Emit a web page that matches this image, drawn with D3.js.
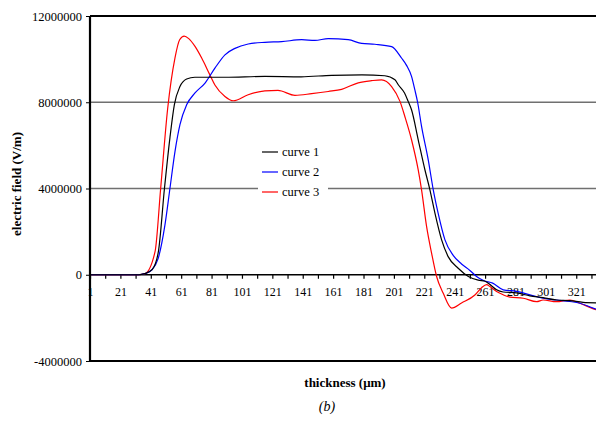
<!DOCTYPE html>
<html>
<head>
<meta charset="utf-8">
<script src="https://cdn.jsdelivr.net/npm/d3@7/dist/d3.min.js"></script>
<style>
  body { margin: 0; background: #fff; }
  .axis path { display: none; }
  .axis line { stroke: #000; }
  .axis text { fill: #000; }
</style>
</head>
<body>
<div id="chart"></div>
<script>
// electric field vs thickness, three curves
var seriesNames = ["curve 1", "curve 2", "curve 3"];
var seriesColors = ["#000000", "#0000ff", "#ff0000"];

var yTicks = [-4000000, 0, 4000000, 8000000, 12000000];
var xTickLabels = [1, 21, 41, 61, 81, 101, 121, 141, 161, 181, 201, 221, 241, 261, 281, 301, 321];

// curve 1 (black): thickness / field (in MV/m)
var curve1X = [1, 33, 37, 42, 46, 50, 53.6, 56.5, 60.2, 64.6, 70, 90, 116, 140, 160, 180, 195, 201.7, 204, 208, 210.4, 212.6, 217, 221.4, 224.7, 228, 232.4, 236.7, 243.3, 250, 256.5, 261, 265, 268.6, 272.9, 281.7, 290.5, 299.2, 308, 316.8, 325.5, 334];
var curve1Y = [0, 0, 0.05, 0.25, 1.07, 4.0, 6.35, 7.88, 8.73, 9.08, 9.16, 9.16, 9.2, 9.18, 9.25, 9.27, 9.23, 9.04, 8.8, 8.43, 8.04, 7.65, 6.26, 4.87, 3.94, 2.86, 1.62, 0.84, 0.3, -0.08, -0.25, -0.3, -0.5, -0.7, -0.8, -0.84, -0.98, -1.06, -1.17, -1.2, -1.28, -1.3];

// curve 2 (blue)
var curve2X = [1, 33, 37, 41.6, 45.9, 50.3, 53.6, 56.9, 60.2, 64.6, 70.1, 76.7, 83.2, 89.8, 96.4, 105.1, 116.1, 127.1, 140.3, 149, 157.8, 170.9, 179.8, 188.5, 199.5, 206.1, 209.4, 212.6, 214.8, 216.6, 219.2, 223.6, 226.9, 230.1, 234.6, 240, 245.5, 251, 255.4, 260, 266, 273, 281.7, 290.5, 299.2, 308, 316.8, 323.4, 331.1, 334];
var curve2Y = [0, 0, 0.05, 0.22, 0.76, 2.3, 4.0, 5.7, 6.96, 7.88, 8.43, 8.89, 9.58, 10.2, 10.5, 10.7, 10.78, 10.81, 10.9, 10.87, 10.95, 10.9, 10.73, 10.69, 10.58, 10.04, 9.7, 9.2, 8.57, 8.0, 6.88, 5.33, 3.94, 2.86, 1.62, 0.9, 0.5, 0.2, -0.08, -0.27, -0.39, -0.7, -0.77, -0.93, -1.09, -1.17, -1.24, -1.32, -1.52, -1.6];

// curve 3 (red)
var curve3X = [1, 33, 37.2, 43.8, 47.5, 52.1, 56.9, 60, 63, 66, 70, 74.5, 79.9, 83.2, 89.8, 95.3, 105.1, 116.1, 124.7, 135.9, 146.9, 157.8, 166.6, 177.5, 186.3, 192.9, 199.5, 205, 208.2, 212.6, 217, 219.2, 222.5, 225.8, 229.1, 233.4, 239, 245.5, 254.3, 258.7, 262, 264.2, 268.6, 272.9, 277.3, 286.1, 294.9, 299.2, 308, 316.8, 323.4, 331.1, 334];
var curve3Y = [0, 0, 0.05, 1.07, 4.0, 7.7, 10.05, 10.9, 11.07, 10.95, 10.6, 10.05, 9.27, 8.8, 8.27, 8.07, 8.35, 8.53, 8.55, 8.32, 8.4, 8.5, 8.6, 8.9, 9.0, 9.04, 8.73, 8.04, 7.34, 6.26, 4.86, 3.94, 2.24, 1.0, -0.08, -0.85, -1.55, -1.31, -0.94, -0.6, -0.46, -0.55, -0.78, -0.93, -1.04, -1.09, -1.25, -1.17, -1.25, -1.17, -1.32, -1.55, -1.62];

var FONT = "'Liberation Serif', 'Times New Roman', serif";

var margin = {top: 16, left: 90},
    width = 506,
    height = 345;

var svg = d3.select("#chart").append("svg")
    .attr("width", 596)
    .attr("height", 424)
    .style("display", "block");

svg.append("rect").attr("width", 596).attr("height", 424).attr("fill", "#fff");

var g = svg.append("g")
    .attr("transform", "translate(" + margin.left + "," + margin.top + ")");

var x = d3.scaleLinear().domain([1, 334]).range([0, width]);
var y = d3.scaleLinear().domain([-4000000, 12000000]).range([height, 0]);

// grid lines at 4M and 8M
g.selectAll(".grid")
    .data([4000000, 8000000])
  .enter().append("line")
    .attr("x1", 0).attr("x2", width)
    .attr("y1", function(d) { return y(d); })
    .attr("y2", function(d) { return y(d); })
    .attr("stroke", "#707070")
    .attr("stroke-width", 1.3);

var series = [
  {name: seriesNames[0], color: seriesColors[0], xs: curve1X, ys: curve1Y},
  {name: seriesNames[1], color: seriesColors[1], xs: curve2X, ys: curve2Y},
  {name: seriesNames[2], color: seriesColors[2], xs: curve3X, ys: curve3Y}
];

var line = d3.line()
    .x(function(d) { return x(d[0]); })
    .y(function(d) { return y(d[1] * 1e6); })
    .curve(d3.curveMonotoneX);

// x axis on the zero line
var xTicks = d3.range(1, 335, 10);
var xAxis = d3.axisBottom(x)
    .tickValues(xTicks)
    .tickSize(4)
    .tickPadding(9)
    .tickFormat(function(d) { return xTickLabels.indexOf(d) >= 0 ? d : ""; });

var xg = g.append("g")
    .attr("class", "x axis")
    .attr("transform", "translate(0," + y(0) + ")")
    .call(xAxis);
xg.selectAll("text").style("font-size", "12px");
xg.selectAll("line").attr("stroke-width", 1.2);
xg.append("line")
    .attr("x1", 0).attr("x2", width)
    .attr("stroke", "#000").attr("stroke-width", 1.5);

// curves
series.slice().reverse().forEach(function(s) {
  g.append("path")
      .datum(d3.zip(s.xs, s.ys))
      .attr("fill", "none")
      .attr("stroke", s.color)
      .attr("stroke-width", 1.2)
      .attr("d", line);
});

// y axis
var yAxis = d3.axisLeft(y)
    .tickValues(yTicks)
    .tickSize(4)
    .tickPadding(4)
    .tickFormat(function(d) { return String(d); });

var yg = g.append("g")
    .attr("class", "y axis")
    .call(yAxis);
yg.selectAll("text").style("font-size", "12.5px");

// frame: left, top, bottom
g.append("line").attr("x1", 0).attr("x2", 0).attr("y1", 0).attr("y2", height)
    .attr("stroke", "#000").attr("stroke-width", 2.2);
g.append("line").attr("x1", 0).attr("x2", width).attr("y1", 0).attr("y2", 0)
    .attr("stroke", "#000").attr("stroke-width", 2.2);
g.append("line").attr("x1", 0).attr("x2", width).attr("y1", height).attr("y2", height)
    .attr("stroke", "#000").attr("stroke-width", 2.2);

// legend
var legend = g.append("g")
    .attr("transform", "translate(168,126)");
legend.append("rect")
    .attr("width", 70).attr("height", 60)
    .attr("fill", "#fff");
series.forEach(function(s, i) {
  var row = legend.append("g").attr("transform", "translate(0," + (10 + i * 20) + ")");
  row.append("line")
      .attr("x1", 4).attr("x2", 20)
      .attr("stroke", s.color).attr("stroke-width", 1.2);
  row.append("text")
      .attr("x", 24).attr("dy", "0.35em")
      .style("font-size", "12.5px")
      .text(s.name);
});

// axis titles
svg.append("text")
    .attr("transform", "translate(21,184) rotate(-90)")
    .attr("text-anchor", "middle")
    .style("font-size", "13px")
    .style("font-weight", "bold")
    .text("electric field (V/m)");

svg.append("text")
    .attr("x", 345).attr("y", 387)
    .attr("text-anchor", "middle")
    .style("font-size", "13px")
    .style("font-weight", "bold")
    .text("thickness (\u03bcm)");

svg.append("text")
    .attr("x", 327).attr("y", 411)
    .attr("text-anchor", "middle")
    .style("font-size", "14px")
    .style("font-style", "italic")
    .text("(b)");

// serif everywhere, like the original
svg.selectAll("text").style("font-family", FONT);
</script>
</body>
</html>
